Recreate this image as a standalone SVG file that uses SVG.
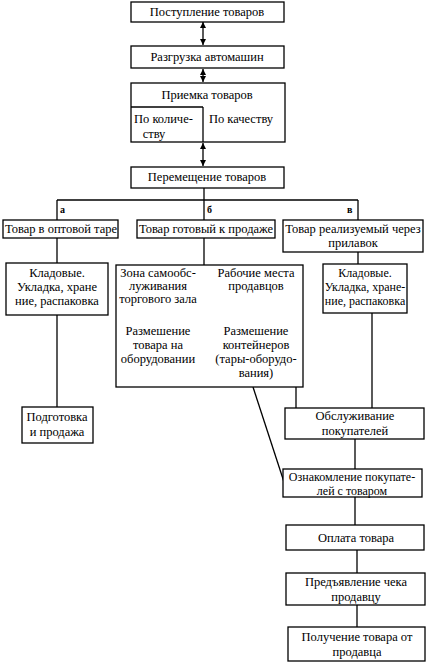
<svg xmlns="http://www.w3.org/2000/svg" width="428" height="663" viewBox="0 0 428 663">
<defs>
<marker id="ah" viewBox="0 0 10 10" refX="10" refY="5" markerWidth="6" markerHeight="6" orient="auto-start-reverse" markerUnits="userSpaceOnUse">
<path d="M0,0 L10,5 L0,10 z" fill="#000"/>
</marker>
<style>
rect{fill:#fff;stroke:#000;stroke-width:1.3}
line,polyline{stroke:#000;stroke-width:1.3;fill:none}
text{font-size:12.5px;fill:#000;text-anchor:middle}
.s{font-size:12px}
.l{text-anchor:start}
.lbl{font-size:10px;font-weight:bold;text-anchor:start}
.arr{marker-start:url(#ah);marker-end:url(#ah)}
</style>
</defs>
<rect x="0" y="0" width="428" height="663" style="fill:#fff;stroke:none"/>
<g font-family="'Liberation Serif', 'DejaVu Serif', serif">
<g id="connectors">
<line class="arr" x1="203" y1="22" x2="203" y2="45"/>
<line class="arr" x1="203" y1="69" x2="203" y2="82"/>
<line class="arr" x1="203" y1="143" x2="203" y2="166"/>
<line x1="204" y1="188" x2="204" y2="200"/>
<line x1="57" y1="200" x2="358" y2="200"/>
<line x1="57" y1="200" x2="57" y2="220"/>
<line x1="204" y1="200" x2="204" y2="220"/>
<line x1="358" y1="200" x2="358" y2="220"/>
<line x1="57" y1="238" x2="57" y2="263"/>
<line x1="57" y1="315" x2="57" y2="407"/>
<line x1="204" y1="238" x2="204" y2="265"/>
<line x1="358" y1="252" x2="358" y2="264"/>
<line x1="372" y1="313" x2="372" y2="408"/>
<line x1="296" y1="387" x2="296" y2="408"/>
<line x1="253" y1="387" x2="284" y2="482"/>
<line x1="355" y1="439" x2="355" y2="469"/>
<line x1="355" y1="497" x2="355" y2="525"/>
<line x1="357" y1="550" x2="357" y2="573"/>
<line x1="357" y1="605" x2="357" y2="627"/>
</g>
<g id="labels">
<text class="lbl" x="60" y="213">а</text>
<text class="lbl" x="207" y="213">б</text>
<text class="lbl" x="347" y="213">в</text>
</g>
<g id="n1"><rect x="131" y="2" width="153" height="20"/><text x="207" y="16">Поступление товаров</text></g>
<g id="n2"><rect x="131" y="46" width="153" height="22"/><text x="207" y="61">Разгрузка автомашин</text></g>
<g id="n3"><rect x="131" y="83" width="154" height="59"/>
<text x="207" y="99">Приемка товаров</text>
<line x1="131" y1="107" x2="203" y2="107"/>
<line x1="203" y1="107" x2="203" y2="142"/>
<text class="l" x="134" y="123">По количе-</text>
<text x="154" y="138">ству</text>
<text x="241" y="123">По качеству</text></g>
<g id="n4"><rect x="131" y="167" width="153" height="21"/><text x="207" y="181">Перемещение товаров</text></g>
<g id="na"><rect x="3" y="220" width="115" height="18"/><text x="61" y="233">Товар в оптовой таре</text></g>
<g id="nb"><rect x="137" y="220" width="138" height="18"/><text x="206" y="233">Товар готовый к продаже</text></g>
<g id="nc"><rect x="283" y="220" width="140" height="32"/><text x="353" y="233">Товар реализуемый через</text><text x="353" y="247">прилавок</text></g>
<g id="n5"><rect x="6" y="263" width="102" height="52"/><text x="57" y="277">Кладовые.</text><text x="57" y="291">Укладка, хране</text><text x="57" y="305">ние, распаковка</text></g>
<g id="n6"><rect x="22" y="407" width="71" height="36"/><text x="57" y="421">Подготовка</text><text x="57" y="436">и продажа</text></g>
<g id="n7"><rect x="116" y="265" width="187" height="122"/>
<text x="158" y="277">Зона самообс-</text><text x="158" y="290">луживания</text><text x="158" y="303">торгового зала</text>
<text x="256" y="277">Рабочие места</text><text x="256" y="290">продавцов</text>
<text x="158" y="335">Размешение</text><text x="158" y="349">товара на</text><text x="158" y="363">оборудовании</text>
<text x="256" y="335">Размешение</text><text x="256" y="349">контейнеров</text><text x="256" y="363">(тары-оборудо-</text><text x="256" y="377">вания)</text></g>
<g id="n8"><rect x="323" y="264" width="84" height="49"/><text class="s" x="365" y="277">Кладовые.</text><text class="s" x="365" y="291">Укладка, хране-</text><text class="s" x="365" y="305">ние, распаковка</text></g>
<g id="n9"><rect x="285" y="408" width="139" height="31"/><text x="355" y="420">Обслуживание</text><text x="355" y="435">покупателей</text></g>
<g id="n10"><rect x="283" y="469" width="139" height="28"/><text class="s" x="352" y="481">Ознакомление покупате-</text><text class="s" x="352" y="494.5">лей с товаром</text></g>
<g id="n11"><rect x="286" y="525" width="138" height="25"/><text x="356" y="542">Оплата товара</text></g>
<g id="n12"><rect x="286" y="573" width="139" height="32"/><text x="356" y="586">Предъявление чека</text><text x="356" y="601">продавцу</text></g>
<g id="n13"><rect x="288" y="627" width="137" height="34"/><text x="357" y="641">Получение товара от</text><text x="357" y="656">продавца</text></g>
</g>
</svg>
